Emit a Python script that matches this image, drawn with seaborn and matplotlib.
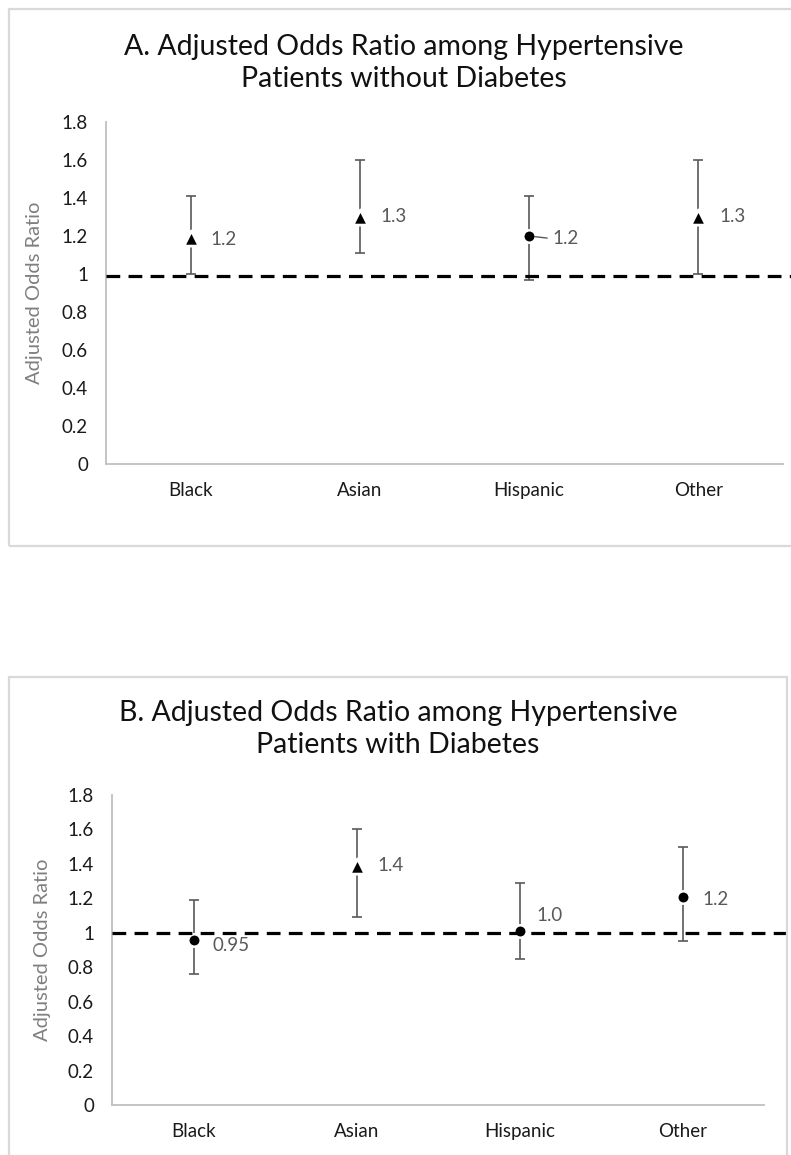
import numpy as np
import pandas as pd
import matplotlib.pyplot as plt
import seaborn as sns
from matplotlib.patches import Rectangle

# Data
groups = ['Black', 'Asian', 'Hispanic', 'Other']

# Panel A - hypertensive patients without diabetes
a_or = [1.19, 1.30, 1.20, 1.30]
a_lo = [1.00, 1.11, 0.97, 1.00]
a_hi = [1.41, 1.60, 1.41, 1.60]
a_shape = ['sig', 'sig', 'ns', 'sig']
a_text = ['1.2', '1.3', '1.2', '1.3']
a_ref = 0.99

# Panel B - hypertensive patients with diabetes
b_or = [0.96, 1.39, 1.01, 1.21]
b_lo = [0.76, 1.09, 0.85, 0.95]
b_hi = [1.19, 1.60, 1.29, 1.50]
b_shape = ['ns', 'sig', 'ns', 'ns']
b_text = ['0.95', '1.4', '1.0', '1.2']
b_ref = 1.0

yticks = [0, 0.2, 0.4, 0.6, 0.8, 1, 1.2, 1.4, 1.6, 1.8]
ytick_labels = ['0', '0.2', '0.4', '0.6', '0.8', '1', '1.2', '1.4', '1.6', '1.8']

sns.set_style('white')
plt.rcParams['font.family'] = ['Lato', 'DejaVu Sans']

W, H = 791, 1155
fig = plt.figure(figsize=(W / 100, H / 100), dpi=100)

GREY = '#595959'
AXIS = '#bfbfbf'


def draw_panel(rect, odds, lo, hi, shape, text, ref, label_offsets, leader=None):
    ax = fig.add_axes(rect)
    df = pd.DataFrame({'group': groups, 'odds': odds, 'lo': lo, 'hi': hi, 'shape': shape})
    pos = np.arange(len(groups))

    # confidence intervals
    ax.errorbar(pos, df['odds'], yerr=[df['odds'] - df['lo'], df['hi'] - df['odds']],
                fmt='none', ecolor=GREY, elinewidth=1.2, capsize=3.8, capthick=1.2, zorder=2)

    # point estimates (white edge gives the gap in the whisker)
    sig = df[df['shape'] == 'sig']
    ns = df[df['shape'] == 'ns']
    sns.scatterplot(x=pos[sig.index], y=sig['odds'], marker='^', color='black',
                    edgecolor='white', linewidth=2.0, s=120, legend=False, ax=ax, zorder=3)
    sns.scatterplot(x=pos[ns.index], y=ns['odds'], marker='o', color='black',
                    edgecolor='white', linewidth=1.8, s=80, legend=False, ax=ax, zorder=3)

    # reference line at OR = 1
    ax.axhline(ref, xmin=0, xmax=1.06, color='black', lw=2.3,
               linestyle=(0, (4.3, 2.6)), clip_on=False, zorder=4)

    for i, (t, off) in enumerate(zip(text, label_offsets)):
        ax.annotate(t, (pos[i], odds[i]), xytext=off, textcoords='offset points',
                    ha='left', va='center', fontsize=13.5, color=GREY)
    if leader is not None:
        i = leader
        ax.annotate('', (pos[i], odds[i]), xytext=(13, -1.5), textcoords='offset points',
                    arrowprops=dict(arrowstyle='-', color=GREY, lw=1, shrinkA=0, shrinkB=4))

    ax.set_xlim(-0.5, len(groups) - 0.5)
    ax.set_ylim(0, 1.8)
    ax.set_xticks(pos)
    ax.set_xticklabels(groups, fontsize=13.5)
    ax.set_yticks(yticks)
    ax.set_yticklabels(ytick_labels, fontsize=13.5)
    ax.tick_params(axis='both', length=0, pad=13, colors='#1a1a1a')
    ax.set_xlabel('')
    ax.set_ylabel('Adjusted Odds Ratio', fontsize=14.5, color='#7f7f7f')
    ax.yaxis.set_label_coords(-0.093, 0.5)
    sns.despine(ax=ax)
    for side in ['left', 'bottom']:
        ax.spines[side].set_color(AXIS)
        ax.spines[side].set_linewidth(1.3)
    return ax


# light grey frames around each chart
fig.patches.append(Rectangle((9 / W, 1 - 546 / H), 800 / W, (546 - 9) / H,
                             transform=fig.transFigure, fill=False,
                             edgecolor='#d9d9d9', lw=1.6))
fig.patches.append(Rectangle((9 / W, -0.05), (787 - 9) / W, (1 - 677 / H) + 0.05,
                             transform=fig.transFigure, fill=False,
                             edgecolor='#d9d9d9', lw=1.6))

# Panel A
draw_panel([106 / W, 1 - 464 / H, (783 - 106) / W, (464 - 122) / H],
           a_or, a_lo, a_hi, a_shape, a_text, a_ref,
           [(14, -1), (15, 0), (17, -2), (15, 0)], leader=2)
fig.text(404 / W, 1 - 63 / H,
         'A. Adjusted Odds Ratio among Hypertensive\nPatients without Diabetes',
         ha='center', va='center', fontsize=20.5, linespacing=1.3, color='#111111')

# Panel B
draw_panel([112 / W, 1 - 1105 / H, (764 - 112) / W, (1105 - 795) / H],
           b_or, b_lo, b_hi, b_shape, b_text, b_ref,
           [(14, -4), (15, 0), (12, 11), (14, -2)])
fig.text(398 / W, 1 - 729 / H,
         'B. Adjusted Odds Ratio among Hypertensive\nPatients with Diabetes',
         ha='center', va='center', fontsize=20.5, linespacing=1.3, color='#111111')

fig.savefig('out.png', dpi=100)
